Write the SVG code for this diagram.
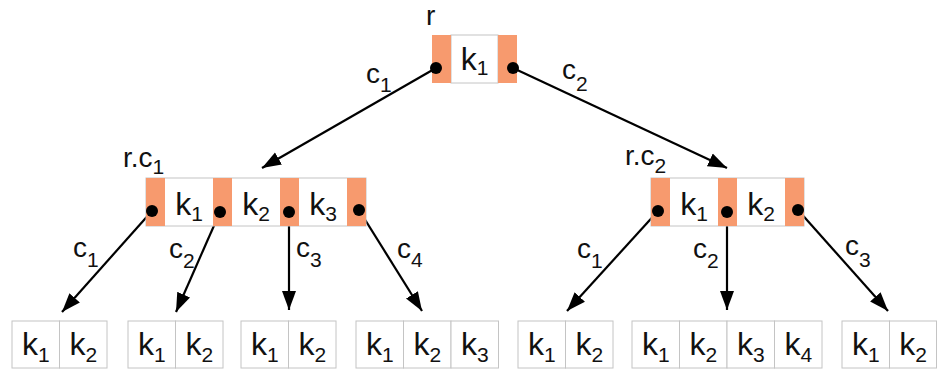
<svg xmlns="http://www.w3.org/2000/svg" width="938" height="369" viewBox="0 0 938 369">
<style>
.o{fill:#F79A6E;stroke:none}
.w{fill:#fff;stroke:#c4c4c4;stroke-width:1}
.k{font-family:"Liberation Sans",Arial,sans-serif;font-size:32px;fill:#111;text-anchor:middle}
.s{font-size:21px}
.l{font-family:"Liberation Sans",Arial,sans-serif;font-size:28px;fill:#111}
.ls{font-size:21px}
.e{stroke:#000;stroke-width:2.2;fill:none;marker-end:url(#ah)}
.d{fill:#000}
</style>
<defs>
<marker id="ah" markerUnits="userSpaceOnUse" markerWidth="20" markerHeight="15" refX="19" refY="7" orient="auto" viewBox="0 0 20 14">
<path d="M0,0 L19,7 L0,14 z" fill="#000"/>
</marker>
</defs>
<rect width="938" height="369" fill="#fff"/>
<g id="edges">
<line class="e" x1="436" y1="68" x2="262" y2="168"/>
<line class="e" x1="513" y1="68" x2="727" y2="168"/>
<line class="e" x1="152" y1="211" x2="62" y2="312"/>
<line class="e" x1="220" y1="212" x2="176" y2="312"/>
<line class="e" x1="289" y1="212" x2="289" y2="310"/>
<line class="e" x1="359" y1="210" x2="422" y2="311"/>
<line class="e" x1="658" y1="211" x2="567" y2="311"/>
<line class="e" x1="727" y1="212" x2="727" y2="310"/>
<line class="e" x1="798" y1="210" x2="888" y2="311"/>
<text class="l" x="366" y="83">c<tspan class="ls" dy="9">1</tspan></text>
<text class="l" x="562" y="79">c<tspan class="ls" dy="12">2</tspan></text>
<text class="l" x="73" y="257">c<tspan class="ls" dy="10">1</tspan></text>
<text class="l" x="169" y="258">c<tspan class="ls" dy="10">2</tspan></text>
<text class="l" x="296" y="257">c<tspan class="ls" dy="10">3</tspan></text>
<text class="l" x="397" y="258">c<tspan class="ls" dy="9">4</tspan></text>
<text class="l" x="577" y="258">c<tspan class="ls" dy="10">1</tspan></text>
<text class="l" x="693" y="258">c<tspan class="ls" dy="10">2</tspan></text>
<text class="l" x="845" y="255">c<tspan class="ls" dy="12">3</tspan></text>
</g>
<g id="root">
<text class="l" x="426" y="25">r</text>
<rect class="w" x="451" y="35" width="47" height="48"/>
<rect class="o" x="432" y="35" width="19" height="48"/>
<rect class="o" x="498" y="35" width="19" height="48"/>
<text class="k" x="474.5" y="70">k<tspan class="s" dy="5">1</tspan></text>
<circle class="d" cx="436" cy="68" r="6"/>
<circle class="d" cx="513" cy="68" r="6"/>
</g>
<g id="rc1">
<text class="l" x="123" y="167">r.c<tspan class="ls" dy="7">1</tspan></text>
<rect class="w" x="146" y="178" width="220" height="48"/>
<rect class="o" x="146" y="178" width="19" height="48"/>
<rect class="o" x="213" y="178" width="19" height="48"/>
<rect class="o" x="280" y="178" width="19" height="48"/>
<rect class="o" x="347" y="178" width="19" height="48"/>
<text class="k" x="189" y="215">k<tspan class="s" dy="6">1</tspan></text>
<text class="k" x="256" y="215">k<tspan class="s" dy="6">2</tspan></text>
<text class="k" x="323" y="215">k<tspan class="s" dy="6">3</tspan></text>
<circle class="d" cx="152" cy="211" r="6"/>
<circle class="d" cx="220" cy="212" r="6"/>
<circle class="d" cx="289" cy="212" r="6"/>
<circle class="d" cx="359" cy="210" r="6"/>
</g>
<g id="rc2">
<text class="l" x="625" y="165">r.c<tspan class="ls" dy="8">2</tspan></text>
<rect class="w" x="651" y="178" width="153" height="48"/>
<rect class="o" x="651" y="178" width="19" height="48"/>
<rect class="o" x="718" y="178" width="19" height="48"/>
<rect class="o" x="785" y="178" width="19" height="48"/>
<text class="k" x="694" y="215">k<tspan class="s" dy="6">1</tspan></text>
<text class="k" x="761" y="215">k<tspan class="s" dy="6">2</tspan></text>
<circle class="d" cx="658" cy="211" r="6"/>
<circle class="d" cx="727" cy="212" r="6"/>
<circle class="d" cx="798" cy="210" r="6"/>
</g>
<g id="leaf1">
<rect class="w" x="12" y="321" width="47.5" height="47"/><rect class="w" x="59.5" y="321" width="47.5" height="47"/>
<text class="k" x="35.75" y="355">k<tspan class="s" dy="7">1</tspan></text>
<text class="k" x="83.25" y="355">k<tspan class="s" dy="7">2</tspan></text>
</g>
<g id="leaf2">
<rect class="w" x="128" y="321" width="47.5" height="47"/><rect class="w" x="175.5" y="321" width="47.5" height="47"/>
<text class="k" x="151.75" y="355">k<tspan class="s" dy="7">1</tspan></text>
<text class="k" x="199.25" y="355">k<tspan class="s" dy="7">2</tspan></text>
</g>
<g id="leaf3">
<rect class="w" x="241" y="321" width="47.5" height="47"/><rect class="w" x="288.5" y="321" width="47.5" height="47"/>
<text class="k" x="264.75" y="355">k<tspan class="s" dy="7">1</tspan></text>
<text class="k" x="312.25" y="355">k<tspan class="s" dy="7">2</tspan></text>
</g>
<g id="leaf4">
<rect class="w" x="356" y="321" width="47.5" height="47"/><rect class="w" x="403.5" y="321" width="47.5" height="47"/><rect class="w" x="451" y="321" width="47.5" height="47"/>
<text class="k" x="379.75" y="355">k<tspan class="s" dy="7">1</tspan></text>
<text class="k" x="427.25" y="355">k<tspan class="s" dy="7">2</tspan></text>
<text class="k" x="474.75" y="355">k<tspan class="s" dy="7">3</tspan></text>
</g>
<g id="leaf5">
<rect class="w" x="518" y="321" width="47.5" height="47"/><rect class="w" x="565.5" y="321" width="47.5" height="47"/>
<text class="k" x="541.75" y="355">k<tspan class="s" dy="7">1</tspan></text>
<text class="k" x="589.25" y="355">k<tspan class="s" dy="7">2</tspan></text>
</g>
<g id="leaf6">
<rect class="w" x="632" y="321" width="47.5" height="47"/><rect class="w" x="679.5" y="321" width="47.5" height="47"/><rect class="w" x="727" y="321" width="47.5" height="47"/><rect class="w" x="774.5" y="321" width="47.5" height="47"/>
<text class="k" x="655.75" y="355">k<tspan class="s" dy="7">1</tspan></text>
<text class="k" x="703.25" y="355">k<tspan class="s" dy="7">2</tspan></text>
<text class="k" x="750.75" y="355">k<tspan class="s" dy="7">3</tspan></text>
<text class="k" x="798.25" y="355">k<tspan class="s" dy="7">4</tspan></text>
</g>
<g id="leaf7">
<rect class="w" x="842" y="321" width="47.5" height="47"/><rect class="w" x="889.5" y="321" width="47" height="47"/>
<text class="k" x="865.75" y="355">k<tspan class="s" dy="7">1</tspan></text>
<text class="k" x="913" y="355">k<tspan class="s" dy="7">2</tspan></text>
</g>
</svg>
